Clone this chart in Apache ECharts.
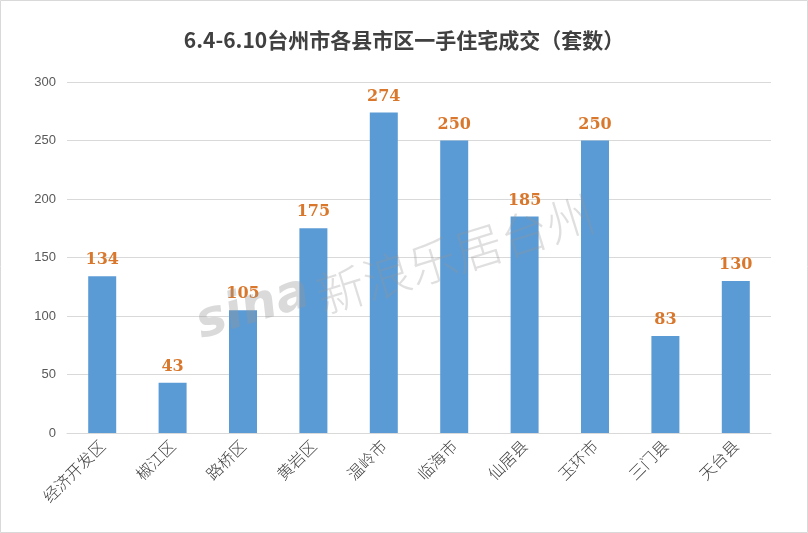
<!DOCTYPE html>
<html><head><meta charset="utf-8">
<script src="https://cdn.jsdelivr.net/npm/echarts@6/dist/echarts.min.js"></script>
<style>html,body{margin:0;padding:0;background:#fff}#c{width:808px;height:533px}</style>
</head><body><div id="c"></div>
<script>
var categories = ['经济开发区','椒江区','路桥区','黄岩区','温岭市','临海市','仙居县','玉环市','三门县','天台县'];
var values = [134, 43, 105, 175, 274, 250, 185, 250, 83, 130];
var yTicks = [0, 50, 100, 150, 200, 250, 300];
var titleText = '6.4-6.10台州市各县市区一手住宅成交（套数）';
var watermarkLogo = 'sina';
var watermarkText = '新浪乐居台州';

var chart = echarts.init(document.getElementById('c'));
chart.setOption({
  backgroundColor: '#fff',
  animation: false,
  title: {
    text: titleText, left: 'center', top: 25,
    textStyle: { fontFamily: 'Noto Sans CJK SC', fontWeight: 'bold', fontSize: 21, color: '#404040' }
  },
  graphic: [
    { type: 'rect', shape: { x: 0.5, y: 0.5, width: 807, height: 532 }, style: { fill: 'none', stroke: '#d9d9d9', lineWidth: 1 }, z: -1 },
    { type: 'text', x: 205, y: 350, rotation: 0.3, z: 100,
      style: { text: watermarkLogo, fontFamily: 'DejaVu Sans', fontStyle: 'italic', fontWeight: 'bold', fontSize: 50, fill: 'rgba(150,150,150,0.35)', textVerticalAlign: 'bottom' } },
    { type: 'text', x: 325, y: 320, rotation: 0.3, z: 100,
      style: { text: watermarkText, fontFamily: 'Noto Sans CJK SC', fontWeight: 300, fontSize: 48, fill: 'rgba(150,150,150,0.3)', textVerticalAlign: 'bottom' } }
  ],
  grid: { left: 67, right: 37, top: 82, bottom: 100 },
  xAxis: {
    type: 'category', data: categories,
    axisLine: { lineStyle: { color: '#d9d9d9' } },
    axisTick: { show: false },
    axisLabel: { rotate: 45, interval: 0, margin: 10, fontSize: 16, color: '#404040', fontFamily: 'Noto Sans CJK SC', fontWeight: 300 }
  },
  yAxis: {
    type: 'value', min: yTicks[0], max: yTicks[yTicks.length-1], interval: 50,
    axisLine: { show: false }, axisTick: { show: false },
    splitLine: { lineStyle: { color: '#d9d9d9' } },
    axisLabel: { fontSize: 13, color: '#595959', margin: 11, fontFamily: 'Liberation Sans' }
  },
  series: [{
    type: 'bar', data: values, barWidth: 28, z: 3,
    itemStyle: { color: '#5B9BD5' },
    label: { show: true, position: 'top', distance: 8, fontSize: 16, fontWeight: 'bold',
      fontFamily: 'DejaVu Serif', color: '#D9782D' }
  }]
});
</script></body></html>
